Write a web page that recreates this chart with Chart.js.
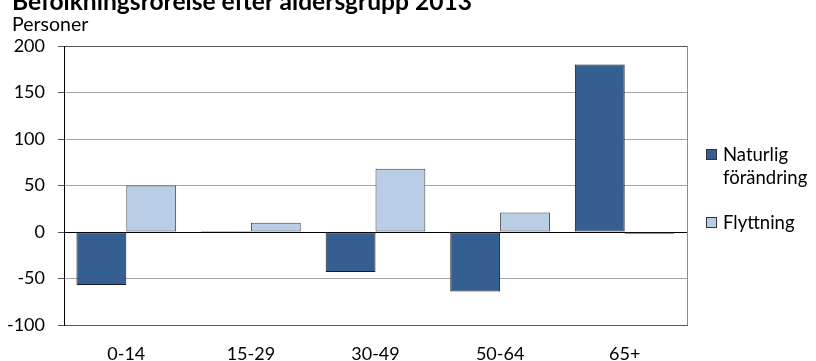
<!DOCTYPE html>
<html>
<head>
<meta charset="utf-8">
<script src="https://cdn.jsdelivr.net/npm/chart.js@4"></script>
<style>
  body { margin: 0; background: #fff; }
  #wrap { position: relative; width: 816px; height: 361px; overflow: hidden; font-family: Lato, sans-serif; color: #000; }
  #title { position: absolute; left: 12px; top: -14px; font-size: 24.6px; font-weight: bold; white-space: nowrap; }
  #unit { position: absolute; left: 12px; top: 12px; font-size: 19.5px; }
  #legend { position: absolute; left: 706px; top: 143px; font-size: 18.5px; line-height: 23px; }
  .item { position: relative; padding-left: 17px; margin-bottom: 22px; }
  .box { position: absolute; left: 0; top: 6px; width: 11px; height: 11px; border: 1px solid #333; box-sizing: border-box; }
  canvas { position: absolute; left: 0; top: 0; }
</style>
</head>
<body>
<div id="wrap">
  <canvas id="chart" width="816" height="361"></canvas>
  <div id="title">Befolkningsrörelse efter åldersgrupp 2013</div>
  <div id="unit">Personer</div>
  <div id="legend"></div>
</div>
<script>
// Age groups and change per group
const ageGroups = ["0-14", "15-29", "30-49", "50-64", "65+"];
const naturligForandring = [-57, 1, -43, -64, 180];
const flyttning = [50, 10, 68, 21, -2];
const seriesNames = [["Naturlig", "förändring"], ["Flyttning"]];
const seriesColors = ["#365f91", "#b9cde5"];
const seriesBorders = ["#1a1a1a", "#404040"];

// Right edge of the plot area
const frameBorder = {
  id: "frameBorder",
  afterDraw(chart) {
    const a = chart.chartArea;
    const c = chart.ctx;
    c.save();
    c.strokeStyle = "#8c8c8c";
    c.lineWidth = 1;
    c.beginPath();
    c.moveTo(Math.round(a.right) + 0.5, a.top);
    c.lineTo(Math.round(a.right) + 0.5, a.bottom);
    c.stroke();
    c.restore();
  },
};

const ctx = document.getElementById("chart").getContext("2d");
const chart = new Chart(ctx, {
  type: "bar",
  data: {
    labels: ageGroups,
    datasets: [
      {
        label: seriesNames[0].join(" "),
        data: naturligForandring,
        backgroundColor: seriesColors[0],
        borderColor: seriesBorders[0],
        borderWidth: 1,
        borderSkipped: false,
      },
      {
        label: seriesNames[1].join(" "),
        data: flyttning,
        backgroundColor: seriesColors[1],
        borderColor: seriesBorders[1],
        borderWidth: 1,
        borderSkipped: false,
      },
    ],
  },
  options: {
    responsive: false,
    animation: false,
    categoryPercentage: 0.8,
    barPercentage: 1.0,
    layout: { padding: { top: 46, right: 129, bottom: 0, left: 0 } },
    plugins: {
      legend: { display: false },
      tooltip: { enabled: false },
    },
    scales: {
      x: {
        grid: { display: false },
        border: { color: "#555" },
        ticks: { color: "#000", font: { family: "Lato", size: 18 }, padding: 10 },
        afterFit: (scale) => { scale.height = 36; },
      },
      y: {
        min: -100,
        max: 200,
        ticks: {
          stepSize: 50,
          color: "#000",
          padding: 13,
          font: { family: "Lato", size: 18 },
        },
        grid: {
          color: (c) => (c.tick.value === 0 ? "#000" : c.tick.value === 200 ? "#555" : "#a6a6a6"),
          tickColor: "#555",
          tickLength: 6,
        },
        border: { color: "#000" },
        afterFit: (scale) => { scale.width = 64; },
      },
    },
  },
  plugins: [frameBorder],
});

// Legend with the wrapped series name
const legend = document.getElementById("legend");
seriesNames.forEach((lines, i) => {
  const item = document.createElement("div");
  item.className = "item";
  const box = document.createElement("span");
  box.className = "box";
  box.style.background = seriesColors[i];
  item.appendChild(box);
  lines.forEach((t) => {
    const line = document.createElement("div");
    line.textContent = t;
    item.appendChild(line);
  });
  legend.appendChild(item);
});
</script>
</body>
</html>
